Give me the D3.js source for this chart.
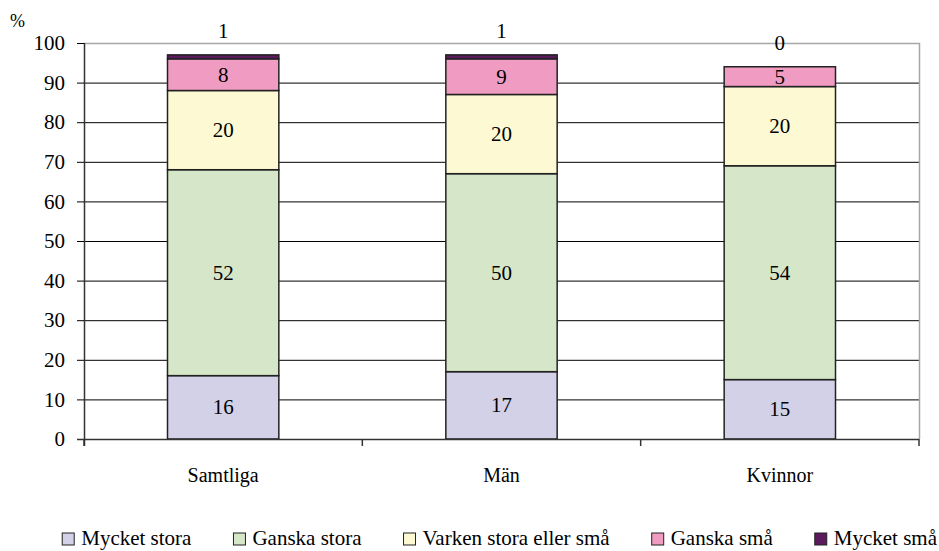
<!DOCTYPE html>
<html>
<head>
<meta charset="utf-8">
<script src="https://cdn.jsdelivr.net/npm/d3@7"></script>
<style>
  body { margin: 0; background: #fff; }
</style>
</head>
<body>
<script>
// data
var categories = ["Samtliga", "Män", "Kvinnor"];
var seriesNames = ["Mycket stora", "Ganska stora", "Varken stora eller små", "Ganska små", "Mycket små"];
var mycketStora = [16, 17, 15];
var ganskaStora = [52, 50, 54];
var varken = [20, 20, 20];
var ganskaSma = [8, 9, 5];
var mycketSma = [1, 1, 0];
var yTicks = [0, 10, 20, 30, 40, 50, 60, 70, 80, 90, 100];

var colors = ["#d3d1e8", "#d6e7c9", "#fdf9d3", "#f09cc2", "#5c1a5e"];
var series = [mycketStora, ganskaStora, varken, ganskaSma, mycketSma];

var FONT = "'Liberation Serif', 'DejaVu Serif', serif";

var W = 939, H = 551;
var margin = {top: 43, right: 20, bottom: 112, left: 84},
    width = W - margin.left - margin.right,
    height = H - margin.top - margin.bottom;

var svg = d3.select("body").append("svg")
    .attr("width", W)
    .attr("height", H)
    .attr("font-family", FONT);

var g = svg.append("g")
    .attr("transform", "translate(" + margin.left + "," + margin.top + ")");

var x = d3.scaleBand()
    .domain(categories)
    .range([0, width])
    .paddingInner(0.6)
    .paddingOuter(0.3);

var y = d3.scaleLinear()
    .domain([0, 100])
    .range([height, 0]);

// gridlines
g.selectAll(".grid")
  .data(yTicks.filter(function(d){ return d > 0 && d < 100; }))
  .enter().append("line")
    .attr("x1", 0).attr("x2", width)
    .attr("y1", function(d){ return y(d) + 0.5; })
    .attr("y2", function(d){ return y(d) + 0.5; })
    .attr("stroke", "#000")
    .attr("stroke-width", 1);

// plot area border top and right
g.append("path")
    .attr("d", "M0," + (y(100) + 0.5) + "H" + (width + 0.5) + "V" + height)
    .attr("fill", "none")
    .attr("stroke", "#a6a6a6")
    .attr("stroke-width", 1.5);

// stack
var rows = categories.map(function(c, i) {
  var r = {cat: c};
  seriesNames.forEach(function(s, j) { r[s] = series[j][i]; });
  return r;
});
var stacked = d3.stack().keys(seriesNames)(rows);

var layer = g.selectAll(".layer")
  .data(stacked)
  .enter().append("g")
    .attr("class", "layer")
    .attr("fill", function(d, i){ return colors[i]; });

layer.selectAll("rect")
  .data(function(d){ return d.filter(function(p){ return p[1] - p[0] > 0; }); })
  .enter().append("rect")
    .attr("x", function(d){ return x(d.data.cat); })
    .attr("width", x.bandwidth())
    .attr("y", function(d){ return y(d[1]); })
    .attr("height", function(d){ return y(d[0]) - y(d[1]); })
    .attr("stroke", "#222")
    .attr("stroke-width", 1.5);

// value labels
stacked.forEach(function(s, i) {
  s.forEach(function(p) {
    var v = p[1] - p[0];
    var cx = x(p.data.cat) + x.bandwidth() / 2;
    var ty;
    if (i === seriesNames.length - 1) {
      ty = y(p[1]) - 17;
    } else {
      ty = (y(p[0]) + y(p[1])) / 2 + 7;
    }
    g.append("text")
      .attr("x", cx)
      .attr("y", ty)
      .attr("text-anchor", "middle")
      .attr("font-family", FONT)
      .attr("font-size", 21)
      .attr("fill", "#000")
      .text(v);
  });
});

// y axis
var yAxis = g.append("g")
    .call(d3.axisLeft(y).tickValues(yTicks).tickSize(7).tickPadding(12))
    .attr("font-family", FONT)
    .attr("font-size", 21);
yAxis.select(".domain")
    .attr("d", "M0.5,0V" + (height + 7))
    .attr("stroke", "#333")
    .attr("stroke-width", 1.5);
yAxis.selectAll(".tick line").attr("stroke", "#000");

// x axis
var xAxis = g.append("g")
    .attr("transform", "translate(0," + height + ")");
xAxis.append("line")
    .attr("x1", -7).attr("x2", width)
    .attr("y1", 0.5).attr("y2", 0.5)
    .attr("stroke", "#333")
    .attr("stroke-width", 1.5);
xAxis.selectAll(".xt")
  .data(d3.range(categories.length + 1))
  .enter().append("line")
    .attr("x1", function(i){ return i === categories.length ? width : x.step() * i; })
    .attr("x2", function(i){ return i === categories.length ? width : x.step() * i; })
    .attr("y1", 0).attr("y2", 7)
    .attr("stroke", "#333")
    .attr("stroke-width", 1.5);
xAxis.selectAll(".xl")
  .data(categories)
  .enter().append("text")
    .attr("x", function(d){ return x(d) + x.bandwidth() / 2; })
    .attr("y", 43)
    .attr("text-anchor", "middle")
    .attr("font-family", FONT)
    .attr("font-size", 20)
    .text(function(d){ return d; });

// unit label
svg.append("text")
    .attr("x", 10)
    .attr("y", 27)
    .attr("font-family", FONT)
    .attr("font-size", 18)
    .text("%");

// legend
var legend = svg.append("g");
var items = legend.selectAll(".legend")
  .data(seriesNames)
  .enter().append("g")
    .attr("class", "legend");
items.append("rect")
    .attr("x", 0).attr("y", 533)
    .attr("width", 12).attr("height", 12)
    .attr("fill", function(d, i){ return colors[i]; })
    .attr("stroke", "#222")
    .attr("stroke-width", 1);
items.append("text")
    .attr("x", 19).attr("y", 545)
    .attr("font-family", FONT)
    .attr("font-size", 21)
    .text(function(d){ return d; });

var widths = [];
items.each(function(){ widths.push(d3.select(this).select("text").node().getComputedTextLength()); });
var gap = 42;
var total = d3.sum(widths) + widths.length * 19 + (widths.length - 1) * gap;
var xpos = 937 - total;
items.attr("transform", function(d, i){
  var t = "translate(" + xpos + ",0)";
  xpos += 19 + widths[i] + gap;
  return t;
});
</script>
</body>
</html>
